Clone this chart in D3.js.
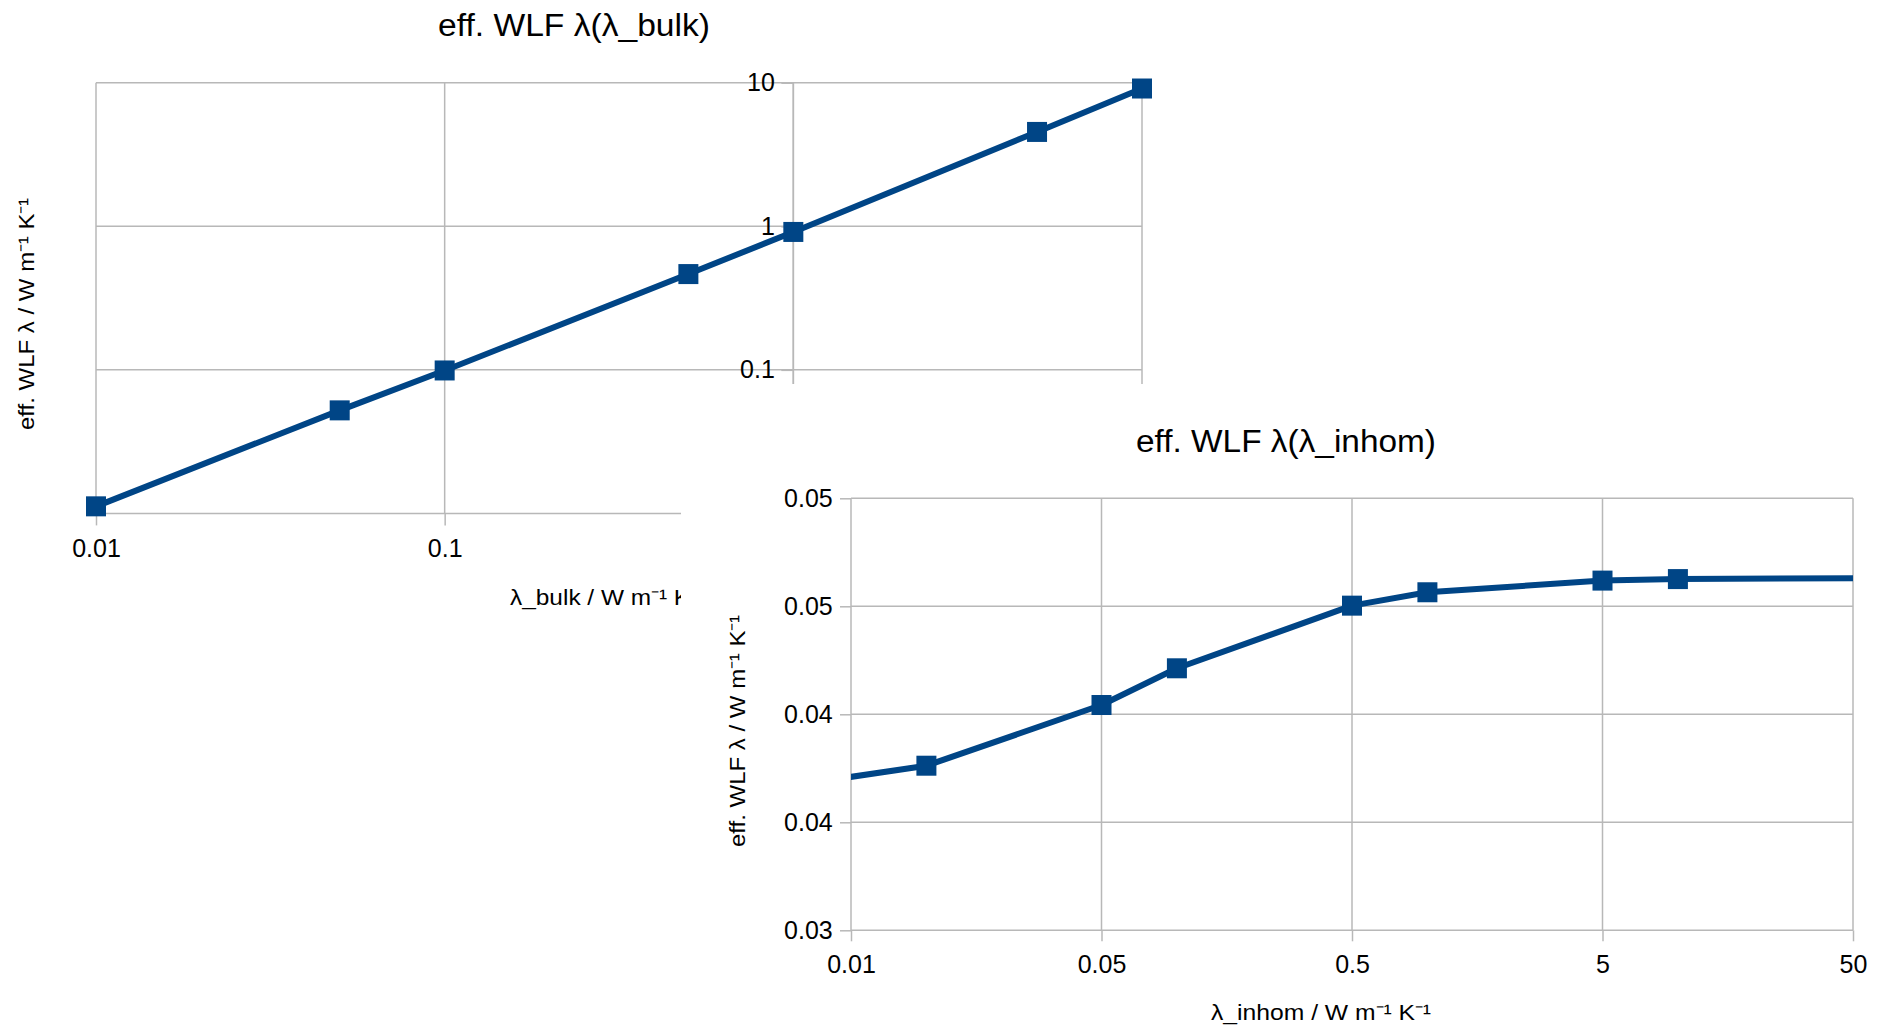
<!DOCTYPE html>
<html>
<head>
<meta charset="utf-8">
<script src="https://cdn.jsdelivr.net/npm/d3@7"></script>
<style>
  html, body { margin: 0; padding: 0; background: #ffffff; }
  svg { display: block; font-family: "Liberation Sans", Arial, sans-serif; }
</style>
</head>
<body>
<svg id="chart" width="1883" height="1028"></svg>
<script>
// Effective WLF conductivity vs. bulk conductivity (log-log)
const bulkX = [0.01, 0.05, 0.1, 0.5, 1, 5, 10];
const bulkEff = [0.0112, 0.0522, 0.099, 0.4645, 0.913, 4.54, 9.11];
const bulkTicks = [0.01, 0.1, 1, 10];
const bulkTickLabels = ["0.01", "0.1", "1", "10"];

// Effective WLF conductivity vs. inhomogeneity conductivity (log x)
const inhomX = [0.001, 0.01, 0.05, 0.1, 0.5, 1, 5, 10, 100];
const inhomEff = [0.0359, 0.03762, 0.04043, 0.04213, 0.04503, 0.04565, 0.04619, 0.04626, 0.04632];
const inhomXTicks = [0.005, 0.05, 0.5, 5, 50];
const inhomXTickLabels = ["0.01", "0.05", "0.5", "5", "50"];
const inhomYTicks = [0.03, 0.035, 0.04, 0.045, 0.05];
const inhomYTickLabels = ["0.03", "0.04", "0.04", "0.05", "0.05"];

const titles = ["eff. WLF λ(λ_bulk)", "eff. WLF λ(λ_inhom)"];
const xTitles = ["λ_bulk / W m⁻¹ K⁻¹", "λ_inhom / W m⁻¹ K⁻¹"];
const yTitle = "eff. WLF λ / W m⁻¹ K⁻¹";

const SERIES = "#004586";
const GRID = "#b8b8b8";
const TICK_FONT = 25;

const svg = d3.select("#chart");

function styleAxis(g) {
  g.select(".domain").remove();
  g.selectAll(".tick line").attr("stroke", GRID).attr("stroke-width", 1.5);
  g.selectAll(".tick text")
    .attr("fill", "#000")
    .style("font-family", '"Liberation Sans", Arial, sans-serif')
    .style("font-size", TICK_FONT + "px");
}

function drawSeries(g, x, y, xs, ys, clipId) {
  const pts = xs.map((v, i) => [v, ys[i]]);
  const inner = g.append("g").attr("clip-path", clipId ? `url(#${clipId})` : null);
  inner.append("path")
    .datum(pts)
    .attr("fill", "none")
    .attr("stroke", SERIES)
    .attr("stroke-width", 6)
    .attr("stroke-linejoin", "round")
    .attr("d", d3.line().x(d => x(d[0])).y(d => y(d[1])));
  const s = 20;
  inner.selectAll("rect.marker")
    .data(pts)
    .join("rect")
    .attr("class", "marker")
    .attr("x", d => x(d[0]) - s / 2)
    .attr("y", d => y(d[1]) - s / 2)
    .attr("width", s)
    .attr("height", s)
    .attr("fill", SERIES);
}

// ---------- chart 1: λ(λ_bulk) ----------
{
  const g = svg.append("g");
  const x = d3.scaleLog().domain([0.01, 10]).range([96, 1142]);
  const y = d3.scaleLog().domain([0.01, 10]).range([513.4, 82.7]);

  // grid
  g.append("g").selectAll("line.h").data(bulkTicks).join("line")
    .attr("x1", x.range()[0]).attr("x2", x.range()[1])
    .attr("y1", d => y(d)).attr("y2", d => y(d))
    .attr("stroke", GRID).attr("stroke-width", 1.5);
  g.append("g").selectAll("line.v").data(bulkTicks).join("line")
    .attr("x1", d => x(d)).attr("x2", d => x(d))
    .attr("y1", y.range()[1]).attr("y2", y.range()[0])
    .attr("stroke", GRID).attr("stroke-width", 1.5);

  // x axis along the bottom
  g.append("g")
    .attr("transform", `translate(0,${y(0.01)})`)
    .call(d3.axisBottom(x).tickValues(bulkTicks)
      .tickFormat((d, i) => bulkTickLabels[i]).tickSize(12).tickPadding(13.5).tickSizeOuter(0))
    .call(styleAxis);

  // y axis crosses at x = 1
  g.append("g")
    .attr("transform", `translate(${x(1)},0)`)
    .call(d3.axisLeft(y).tickValues(bulkTicks)
      .tickFormat((d, i) => bulkTickLabels[i]).tickSize(12).tickPadding(6.5).tickSizeOuter(0))
    .call(styleAxis);
  g.append("line")
    .attr("x1", x(1)).attr("x2", x(1))
    .attr("y1", y.range()[1]).attr("y2", y.range()[0] + 12)
    .attr("stroke", GRID).attr("stroke-width", 1.5);

  drawSeries(g, x, y, bulkX, bulkEff, null);

  g.append("text")
    .attr("x", 574).attr("y", 36)
    .attr("text-anchor", "middle")
    .attr("textLength", 272).attr("lengthAdjust", "spacingAndGlyphs")
    .style("font-size", "31px")
    .text(titles[0]);

  g.append("text")
    .attr("x", 510).attr("y", 605)
    .attr("textLength", 196).attr("lengthAdjust", "spacingAndGlyphs")
    .style("font-size", "22px")
    .text(xTitles[0]);

  g.append("text")
    .attr("transform", "translate(34,314) rotate(-90)")
    .attr("text-anchor", "middle")
    .attr("textLength", 232).attr("lengthAdjust", "spacingAndGlyphs")
    .style("font-size", "22px")
    .text(yTitle);
}

// ---------- chart 2: λ(λ_inhom), placed over the lower right ----------
{
  const g = svg.append("g");
  g.append("rect")
    .attr("x", 681).attr("y", 384)
    .attr("width", 1883 - 681).attr("height", 1028 - 384)
    .attr("fill", "#ffffff");

  const x = d3.scaleLog().domain([0.005, 50]).range([851, 1853]);
  const y = d3.scaleLinear().domain([0.03, 0.05]).range([930.3, 498.3]);

  svg.append("defs").append("clipPath").attr("id", "plot2")
    .append("rect")
    .attr("x", x.range()[0]).attr("y", y.range()[1])
    .attr("width", x.range()[1] - x.range()[0])
    .attr("height", y.range()[0] - y.range()[1]);

  g.append("g").selectAll("line").data(inhomYTicks).join("line")
    .attr("x1", x.range()[0]).attr("x2", x.range()[1])
    .attr("y1", d => y(d)).attr("y2", d => y(d))
    .attr("stroke", GRID).attr("stroke-width", 1.5);
  g.append("g").selectAll("line").data(inhomXTicks).join("line")
    .attr("x1", d => x(d)).attr("x2", d => x(d))
    .attr("y1", y.range()[1]).attr("y2", y.range()[0])
    .attr("stroke", GRID).attr("stroke-width", 1.5);

  g.append("g")
    .attr("transform", `translate(0,${y(0.03)})`)
    .call(d3.axisBottom(x).tickValues(inhomXTicks)
      .tickFormat((d, i) => inhomXTickLabels[i]).tickSize(11).tickPadding(13.5).tickSizeOuter(0))
    .call(styleAxis);

  g.append("g")
    .attr("transform", `translate(${x(0.005)},0)`)
    .call(d3.axisLeft(y).tickValues(inhomYTicks)
      .tickFormat((d, i) => inhomYTickLabels[i]).tickSize(11).tickPadding(7.3).tickSizeOuter(0))
    .call(styleAxis);

  drawSeries(g, x, y, inhomX, inhomEff, "plot2");

  g.append("text")
    .attr("x", 1286).attr("y", 452)
    .attr("text-anchor", "middle")
    .attr("textLength", 300).attr("lengthAdjust", "spacingAndGlyphs")
    .style("font-size", "31px")
    .text(titles[1]);

  g.append("text")
    .attr("x", 1321).attr("y", 1020)
    .attr("text-anchor", "middle")
    .attr("textLength", 220).attr("lengthAdjust", "spacingAndGlyphs")
    .style("font-size", "22px")
    .text(xTitles[1]);

  g.append("text")
    .attr("transform", "translate(745,731) rotate(-90)")
    .attr("text-anchor", "middle")
    .attr("textLength", 232).attr("lengthAdjust", "spacingAndGlyphs")
    .style("font-size", "22px")
    .text(yTitle);
}
</script>
</body>
</html>
